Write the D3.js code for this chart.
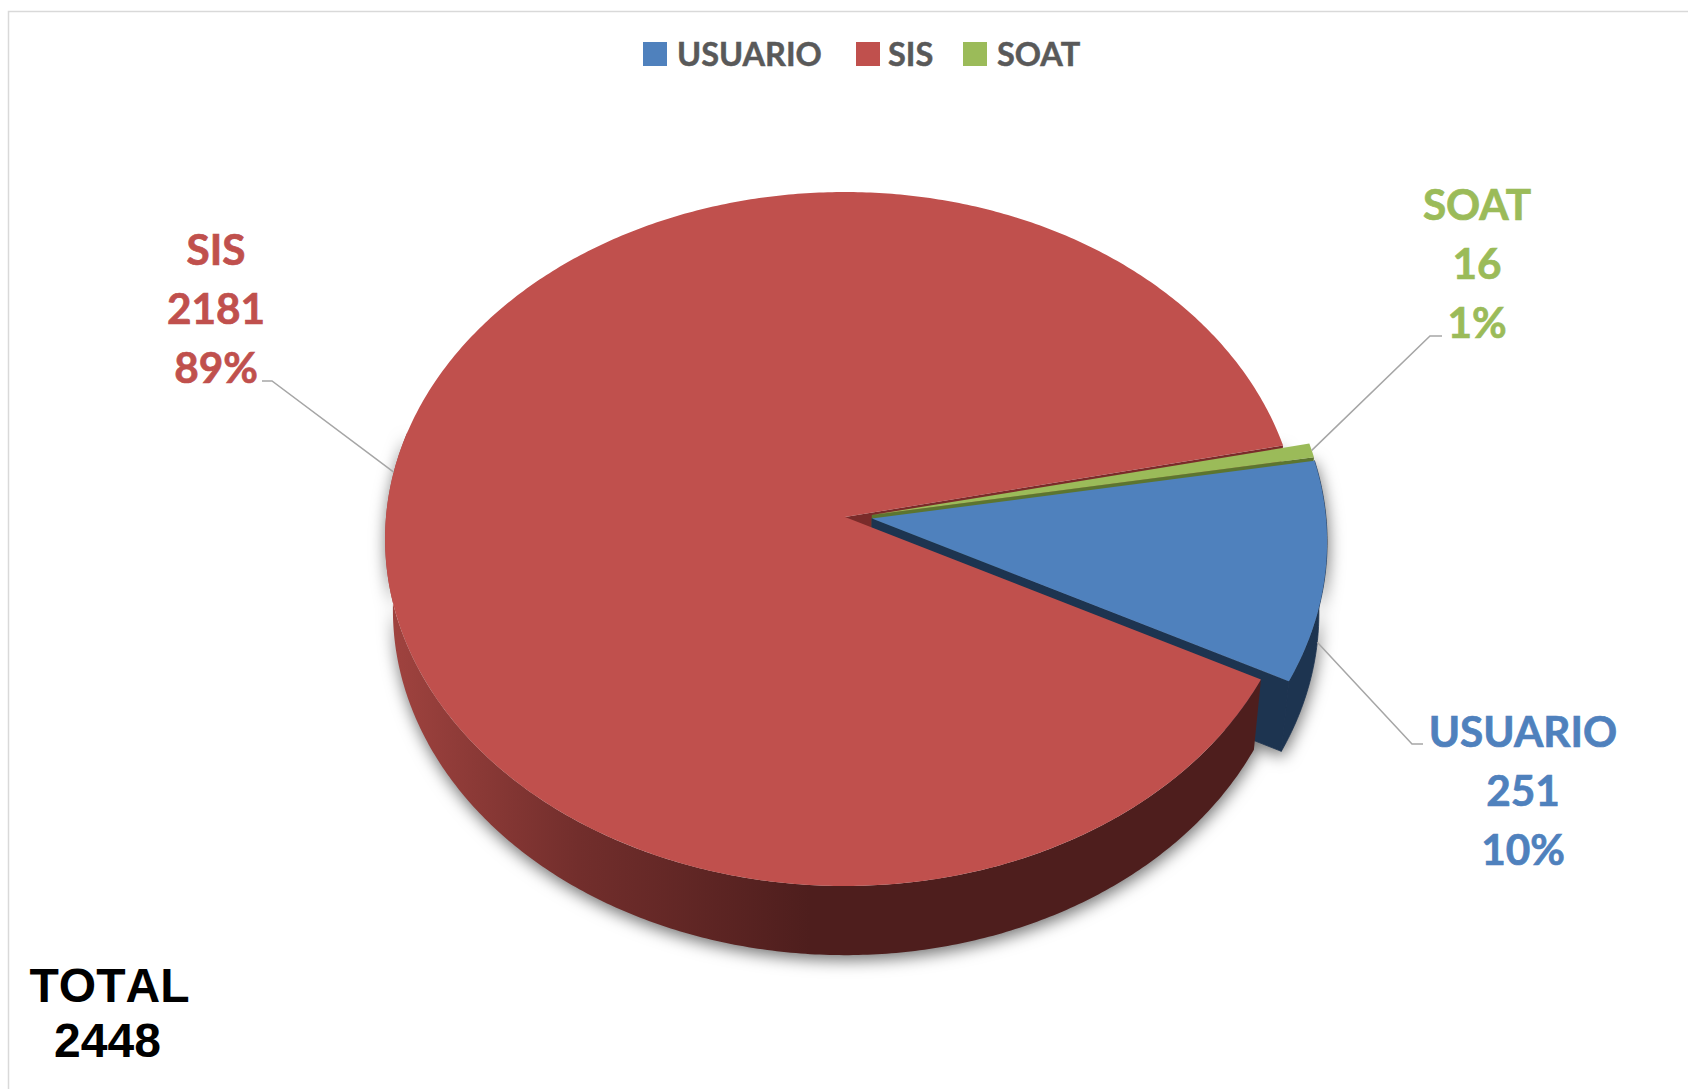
<!DOCTYPE html>
<html><head><meta charset="utf-8">
<script src="https://cdn.jsdelivr.net/npm/d3@7"></script>
<style>html,body{margin:0;padding:0;background:#fff}svg{display:block}</style>
</head><body><div id="c"></div>
<script>
const categories = ["USUARIO", "SIS", "SOAT"];
const values = [251, 2181, 16];
const percents = ["10%", "89%", "1%"];
const totalLabel = "TOTAL";
const totalValue = "2448";
const topColors = ["#4f81bd", "#c0504d", "#9bbb59"];
const wallColors = ["#1d3450", "#7a2b2a", "#5c7530"];

const W = 1688, H = 1089;
const CX = 845, CY = 517, RX = 459, RX_RIGHT = 454, RY = 345.6, K = 0.0634;
const DEPTH = 71, SHRINK_X = 0.017, SHRINK_Y = 0.005, EXPLODE = [0.06, 0, 0.06], EXPLODE_Y = 0.5;
const START = 80.25 * Math.PI / 180;

const svg = d3.select("#c").append("svg").attr("width", W).attr("height", H);
const defs = svg.append("defs");
const grad = defs.append("linearGradient").attr("id", "redWall")
  .attr("gradientUnits", "userSpaceOnUse").attr("x1", 390).attr("x2", 810).attr("y1", 0).attr("y2", 0);
grad.append("stop").attr("offset", 0).attr("stop-color", "#a0433f");
grad.append("stop").attr("offset", 0.45).attr("stop-color", "#722e2c");
grad.append("stop").attr("offset", 1).attr("stop-color", "#4e1e1d");

// frame
const frame = svg.append("g").attr("fill", "none").attr("stroke", "#d9d9d9").attr("stroke-width", 1.5);
frame.append("path").attr("d", d3.line()([[W, 11.5], [8.5, 11.5], [8.5, H]]));

const pie = d3.pie().sort(null).value(d => d).startAngle(START).endAngle(START + 2 * Math.PI);
const slices = pie(values).map((s, i) => {
  const m = (s.startAngle + s.endAngle) / 2;
  return {...s, i, mid: m, ox: EXPLODE[i] * Math.sin(m), oy: -EXPLODE[i] * EXPLODE_Y * Math.cos(m)};
});

function project(s, a, r, z) {
  const u = r * Math.sin(a) + s.ox, v = -r * Math.cos(a) + s.oy;
  const w = 1 - K * v, rx = u > 0 ? RX_RIGHT : RX;
  return [CX + rx * (1 - SHRINK_X * z) * u / w, CY + DEPTH * z + RY * (1 - SHRINK_Y * z) * v / w];
}
const line = d3.line();
function arcPts(s, z, end) {
  const e = end === undefined ? s.endAngle : end;
  const n = Math.max(8, Math.ceil((e - s.startAngle) / 0.01));
  return d3.range(n + 1).map(k => project(s, s.startAngle + (e - s.startAngle) * k / n, 1, z));
}
const topPath = s => line([project(s, 0, 0, 0), ...arcPts(s, 0)]) + "Z";
const outerWall = (s, end) => line([...arcPts(s, 0, end), ...arcPts(s, 1, end).reverse()]) + "Z";
const cutWall = (s, a) => line([project(s, 0, 0, 0), project(s, a, 1, 0), project(s, a, 1, 1), project(s, 0, 0, 1)]) + "Z";

const [usu, sis, soat] = slices;
const pieG = svg.append("g");
const wallsG = pieG.append("g").style("filter", "drop-shadow(1px 5px 8px rgba(0,0,0,0.55))");
// back to front: cut walls in the wedge, exploded slice, then the big slice's visible rim
wallsG.append("path").attr("d", cutWall(sis, sis.endAngle)).attr("fill", wallColors[1]);
wallsG.append("path").attr("d", cutWall(soat, soat.endAngle)).attr("fill", wallColors[2]);
wallsG.append("path").attr("d", cutWall(usu, usu.endAngle)).attr("fill", wallColors[0]).attr("stroke", wallColors[0]).attr("stroke-width", 0.8);
wallsG.append("path").attr("d", outerWall(usu)).attr("fill", wallColors[0]).attr("stroke", wallColors[0]).attr("stroke-width", 0.8);
wallsG.append("path").attr("d", outerWall(sis, 1.5 * Math.PI + 0.25)).attr("fill", "url(#redWall)");
pieG.append("path").attr("d", topPath(sis)).attr("fill", topColors[1]);
pieG.append("path").attr("d", topPath(soat)).attr("fill", topColors[2]);
pieG.append("path").attr("d", topPath(usu)).attr("fill", topColors[0]);

// legend
const legendX = [643, 856, 963], legendTextX = [677, 888, 997];
const leg = svg.append("g");
categories.forEach((c, i) => {
  leg.append("rect").attr("x", legendX[i]).attr("y", 42).attr("width", 24).attr("height", 24).attr("fill", topColors[i]);
  leg.append("text").attr("x", legendTextX[i]).attr("y", 66).text(c)
    .attr("font-family", "Lato").attr("font-weight", 700).attr("font-size", 32.5).attr("fill", "#595959")
    .attr("stroke", "#595959").attr("stroke-width", 0.5);
});

// labels with leader lines
const labelX = [1523, 216, 1477], labelBase = [747, 264.5, 219.5], lineGap = 59.2;
const elbow = [[1423, 1412, 744], [262, 272, 381], [1442, 1430, 336]];
const anchor = [project(usu, usu.mid, 1, 1), project(sis, sis.mid, 1, 0), project(soat, soat.mid, 1, 0)];
const lab = svg.append("g");
categories.forEach((c, i) => {
  [c, String(values[i]), percents[i]].forEach((t, k) => {
    lab.append("text").attr("x", labelX[i]).attr("y", labelBase[i] + k * lineGap).attr("text-anchor", "middle")
      .text(t).attr("font-family", "Lato").attr("font-weight", 700).attr("font-size", 42.3).attr("fill", topColors[i])
      .attr("stroke", topColors[i]).attr("stroke-width", 0.7);
  });
  const [x0, x1, y] = elbow[i];
  lab.append("path").attr("d", line([[x0, y], [x1, y], anchor[i]]))
    .attr("fill", "none").attr("stroke", "#a6a6a6").attr("stroke-width", 1.5);
});

// total
[[totalLabel, 1002, 109.5], [totalValue, 1057, 107.5]].forEach(([t, y, x]) => {
  svg.append("text").attr("x", x).attr("y", y).attr("text-anchor", "middle").text(t)
    .style("font-kerning", "none")
    .attr("font-family", "Liberation Sans").attr("font-weight", 700).attr("font-size", 48).attr("fill", "#000");
});
</script></body></html>
